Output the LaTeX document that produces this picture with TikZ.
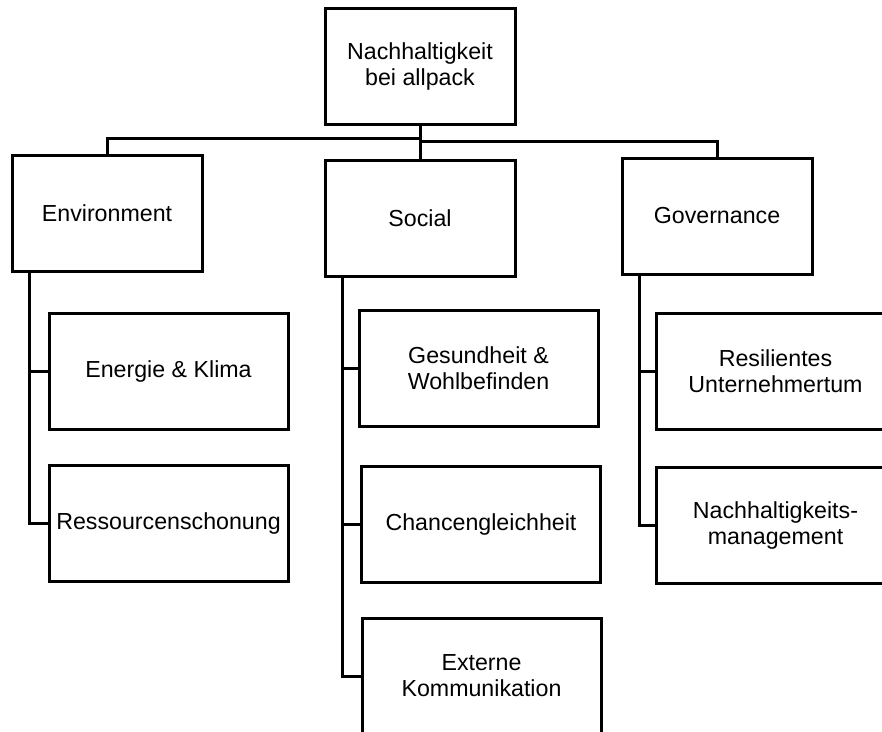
\documentclass[tikz,border=0pt]{standalone}
\usepackage{fontspec}
\setmainfont{Liberation Sans}
\begin{document}
\begin{tikzpicture}[x=1pt,y=-1pt,
  box/.style={draw=black,line width=3pt,fill=white,rectangle,inner sep=0pt,
    align=center,font=\fontsize{23.2}{26}\selectfont},
  topbox/.style={box,minimum width=190pt,minimum height=116pt},
  subbox/.style={box,minimum width=239pt,minimum height=116pt},
  conn/.style={draw=black,line width=3pt}]
\useasboundingbox (0,0) rectangle (882,731);
\fill[white] (0,0) rectangle (882,731);
% nodes
\node[topbox] (root) at (420,66) {Nachhaltigkeit\\bei allpack};
\node[topbox] (env) at (107,213) {Environment};
\node[topbox] (soc) at (420,218) {Social};
\node[topbox] (gov) at (717,216) {Governance};
\node[subbox] (energie) at (168.5,371) {Energie \& Klima};
\node[subbox] (ress) at (168.5,523.5) {Ressourcenschonung};
\node[subbox] (ges) at (478.5,368.5) {Gesundheit \&\\Wohlbefinden};
\node[subbox] (chan) at (481,524) {Chancengleichheit};
\node[subbox] (ext) at (481.5,676) {Externe\\Kommunikation};
\node[subbox] (res) at (775.5,371) {Resilientes\\Unternehmertum};
\node[subbox] (nach) at (775.5,525) {Nachhaltigkeits-\\management};
% top level connectors
\coordinate (barL) at ([yshift=-13pt]root.south);
\coordinate (barR) at ([yshift=-16pt]root.south);
\draw[conn] (root.south) -- (soc.north);
\draw[conn] (barL) -| (env.north);
\draw[conn] (barR) -| (gov.north);
% trunks
\coordinate (envT) at ([xshift=19pt]env.south west);
\coordinate (socT) at ([xshift=19pt]soc.south west);
\coordinate (govT) at ([xshift=19pt]gov.south west);
\draw[conn] (envT) |- (energie.west);
\draw[conn] (envT) |- (ress.west);
\draw[conn] (socT) |- (ges.west);
\draw[conn] (socT) |- (chan.west);
\draw[conn] (socT) |- (ext.west);
\draw[conn] (govT) |- (res.west);
\draw[conn] (govT) |- (nach.west);
\end{tikzpicture}
\end{document}
